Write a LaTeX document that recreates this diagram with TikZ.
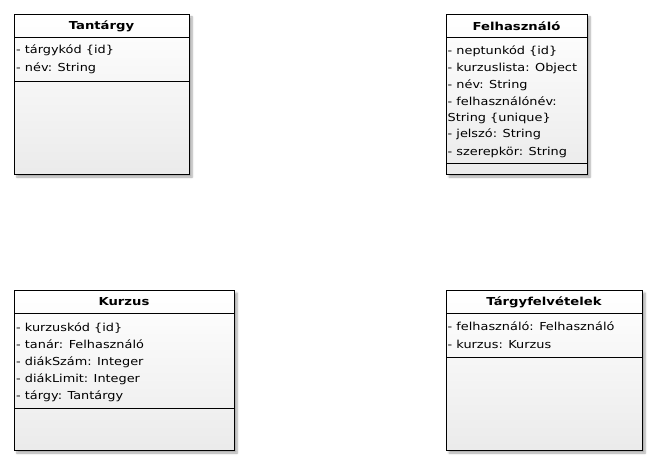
\documentclass[tikz,border=0pt]{standalone}
\usepackage{fontspec}
\setmainfont{DejaVu Sans}
\newfontfamily\attrfont{DejaVu Sans}[FakeStretch=1.17]
\newfontfamily\titlefont{DejaVu Sans}[FakeStretch=1.2]
\usetikzlibrary{shadows.blur}
\tikzset{
  classbox/.style={draw=black, line width=1pt, anchor=north west, inner sep=0pt,
    top color=white, bottom color=black!8,
    blur shadow={shadow xshift=2.5pt, shadow yshift=-2.5pt, shadow blur steps=6, shadow blur radius=2pt, shadow opacity=35}},
  sepline/.style={draw=black, line width=1pt},
  title/.style={font=\titlefont\fontsize{11}{14}\selectfont\bfseries, inner sep=0pt},
  attrs/.style={font=\attrfont\fontsize{11}{17.1}\selectfont, align=left, anchor=north west, inner sep=0pt}
}
\begin{document}
\begin{tikzpicture}[x=1pt,y=-1pt]
\useasboundingbox (0,0) rectangle (657,465);
% Tantárgy
\node[classbox, minimum width=175pt, minimum height=160pt] (tant) at (14,14) {};
\draw[sepline] (14,38) -- (189,38) (14,82) -- (189,82);
\node[title] (tantT) at (101.5,26) {Tantárgy};
\node[attrs] (tantA) at (16,45) {- tárgykód \{id\}\\- név: String};
% Felhasználó
\node[classbox, minimum width=141pt, minimum height=160pt] (felh) at (446,14) {};
\draw[sepline] (446,38) -- (587,38) (446,164) -- (587,164);
\node[title] (felhT) at (516.5,26) {Felhasználó};
\node[attrs] (felhA) at (447.5,45.5) {- neptunkód \{id\}\\- kurzuslista: Object\\- név: String\\- felhasználónév:\\[-1pt]String \{unique\}\\[-1pt]- jelszó: String\\- szerepkör: String};
% Kurzus
\node[classbox, minimum width=220pt, minimum height=160pt] (kurz) at (14,290) {};
\draw[sepline] (14,314) -- (234,314) (14,409) -- (234,409);
\node[title] (kurzT) at (124,302) {Kurzus};
\node[attrs] (kurzA) at (16,322.5) {- kurzuskód \{id\}\\- tanár: Felhasználó\\- diákSzám: Integer\\- diákLimit: Integer\\- tárgy: Tantárgy};
% Tárgyfelvételek
\node[classbox, minimum width=196pt, minimum height=160pt] (targ) at (446,290) {};
\draw[sepline] (446,314) -- (642,314) (446,358) -- (642,358);
\node[title] (targT) at (544,302) {Tárgyfelvételek};
\node[attrs] (targA) at (447.5,322) {- felhasználó: Felhasználó\\- kurzus: Kurzus};
\end{tikzpicture}
\end{document}
